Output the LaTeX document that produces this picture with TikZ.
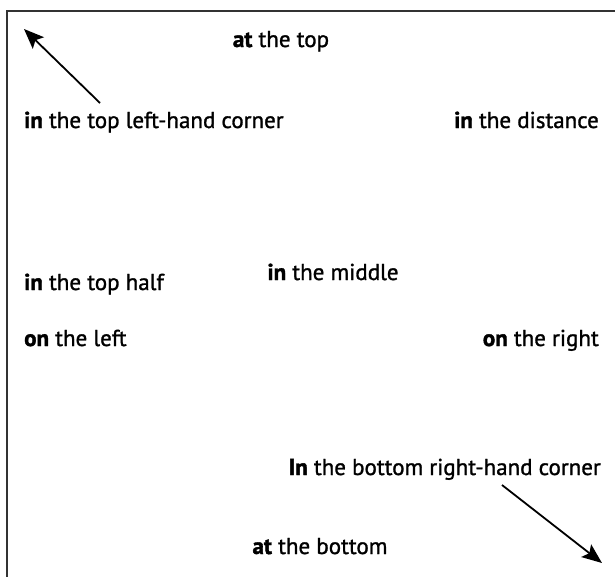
\documentclass[tikz,border=0pt]{standalone}
\usepackage{fontspec}
\setmainfont{PT Sans}[FakeBold=1.2]
\newfontfamily\bfam{PT Sans Bold}[FakeBold=1.6]
\usetikzlibrary{arrows.meta}
\newcommand{\bw}[1]{{\bfam #1}}
\begin{document}
\begin{tikzpicture}[x=1pt,y=-1pt,
  lbl/.style={inner sep=0pt,font=\fontsize{23}{26}\selectfont},
  arr/.style={line width=1.8pt,-{Stealth[length=20pt,width=16pt,inset=4pt]}}]
\useasboundingbox (0,0) rectangle (615,576);
\begin{scope}
\clip (0,0) rectangle (615,576);
\draw[line width=1.8pt,black!80] (7,11) rectangle (640,600);
\end{scope}
\node[lbl,anchor=base] (top) at (281,47) {\bw{at} the top};
\node[lbl,anchor=base west] (tlc) at (24,128) {\bw{in} the top left-hand corner};
\node[lbl,anchor=base east] (dist) at (599,128) {\bw{in} the distance};
\node[lbl,anchor=base west] (half) at (24,290) {\bw{in} the top half};
\node[lbl,anchor=base] (mid) at (333,280) {\bw{in} the middle};
\node[lbl,anchor=base west] (left) at (24,346) {\bw{on} the left};
\node[lbl,anchor=base east] (right) at (599,346) {\bw{on} the right};
\node[lbl,anchor=base east] (brc) at (601,475) {\bw{In} the bottom right-hand corner};
\node[lbl,anchor=base] (bot) at (320,554) {\bw{at} the bottom};
\coordinate (tla) at (24,29);
\coordinate (tls) at (100,103);
\coordinate (bra) at (602,563);
\coordinate (brs) at (502,485);
\draw[arr] (tls) -- (tla);
\draw[arr] (brs) -- (bra);
\end{tikzpicture}
\end{document}
